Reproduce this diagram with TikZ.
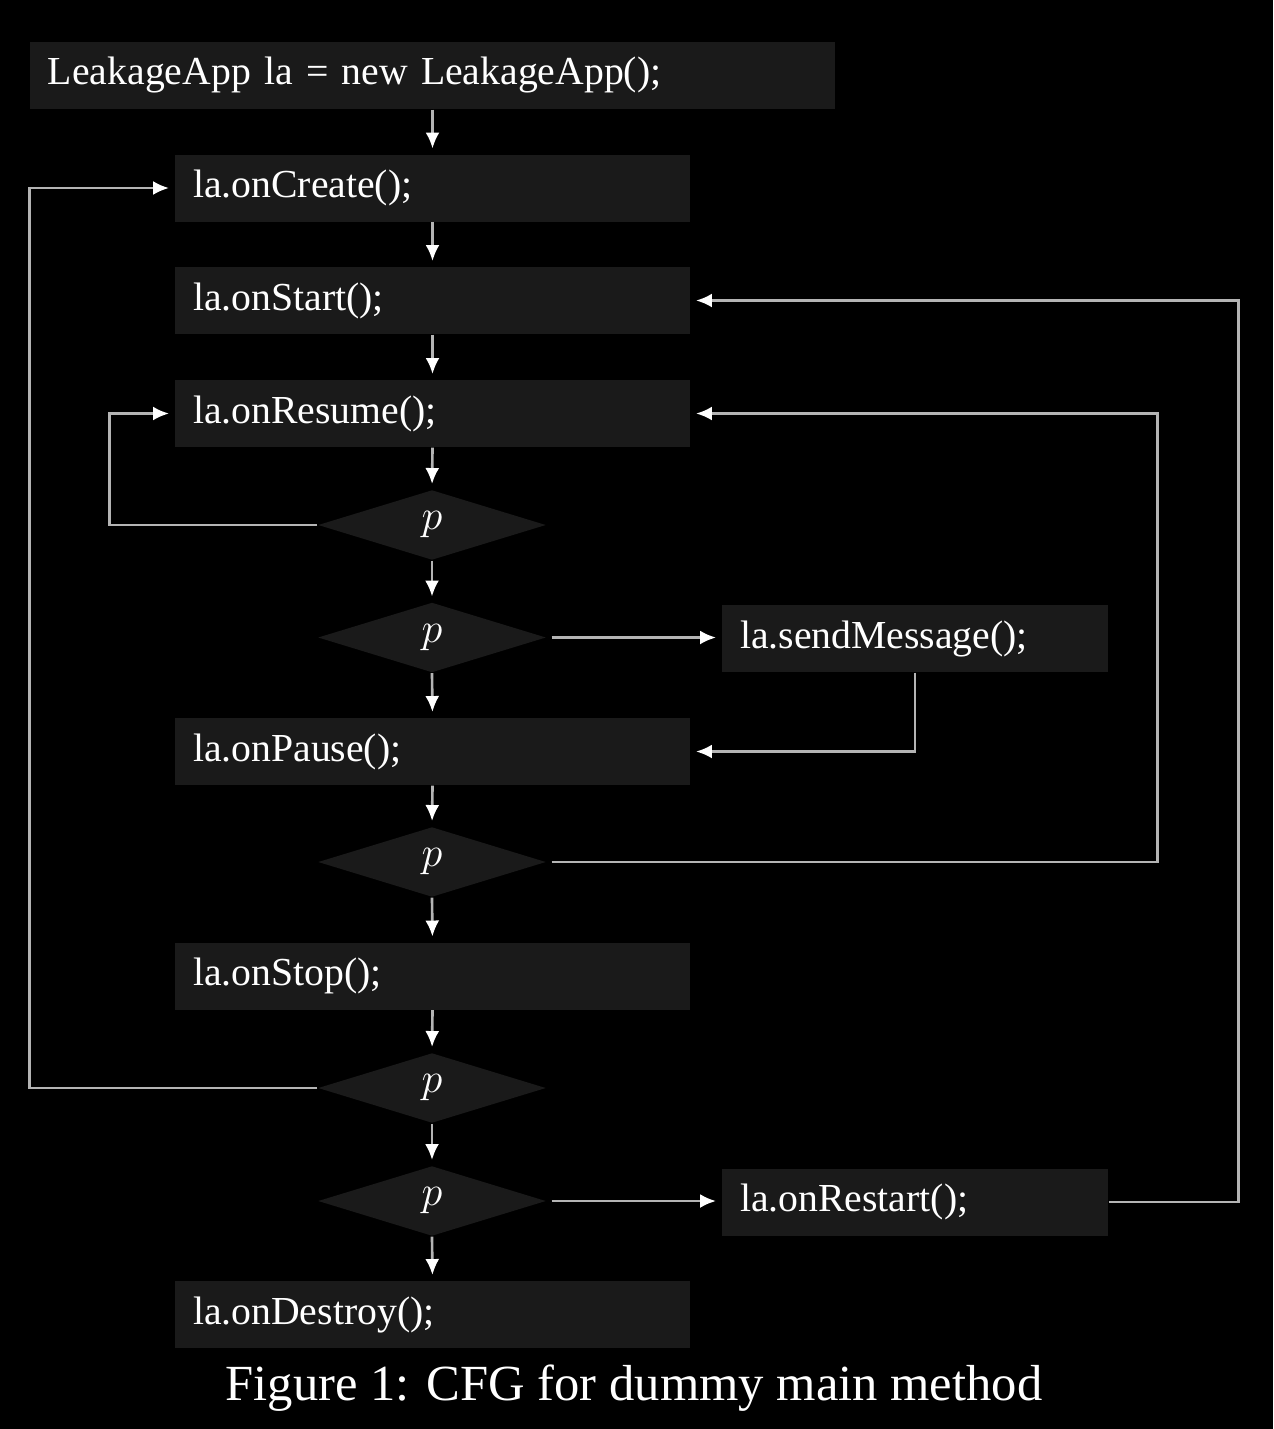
\documentclass[tikz,border=0pt]{standalone}
\usepackage{fontspec}
\setmainfont{Liberation Serif}
\usetikzlibrary{shapes.geometric,arrows.meta}
\definecolor{boxgray}{HTML}{1A1A1A}
\definecolor{linegray}{HTML}{B4B4B4}
\tikzset{
  stmt/.style={fill=boxgray,text=white,minimum height=.67cm,inner xsep=.18cm,align=left,
    font=\fontsize{11.3}{13}\selectfont},
  mainstmt/.style={stmt,text width=4.79cm},
  sidestmt/.style={stmt,text width=3.50cm},
  cond/.style={diamond,aspect=3.26,fill=boxgray,text=white,minimum width=2.28cm,
    minimum height=.70cm,inner sep=0pt,font=\fontsize{12}{14}\selectfont},
  flow/.style={draw=linegray,line width=.75pt,
    -{Latex[color=white,length=.16cm,width=.14cm]},shorten >=1.5pt}
}
\begin{document}
\begin{tikzpicture}
\fill[black] (0,0) rectangle (12.73,-14.29);
\useasboundingbox (0,0) rectangle (12.73,-14.29);

% statements of the dummy main
\node[stmt,text width=7.69cm] (new) at (4.325,-0.755) {LeakageApp la = new LeakageApp();};
\node[mainstmt] (create) at (4.325,-1.88) {la.onCreate();};
\node[mainstmt] (start) at (4.325,-3.005) {la.onStart();};
\node[mainstmt] (resume) at (4.325,-4.135) {la.onResume();};
\node[cond] (p1) at (4.32,-5.25) {$p$};
\node[cond] (p2) at (4.32,-6.375) {$p$};
\node[sidestmt] (send) at (9.15,-6.385) {la.sendMessage();};
\node[mainstmt] (pause) at (4.325,-7.515) {la.onPause();};
\node[cond] (p3) at (4.32,-8.62) {$p$};
\node[mainstmt] (stop) at (4.325,-9.76) {la.onStop();};
\node[cond] (p4) at (4.32,-10.88) {$p$};
\node[cond] (p5) at (4.32,-12.01) {$p$};
\node[sidestmt] (restart) at (9.15,-12.02) {la.onRestart();};
\node[mainstmt] (destroy) at (4.325,-13.145) {la.onDestroy();};

\node[text=white,font=\fontsize{14.4}{17}\selectfont] (cap) at (6.34,-13.88)
  {Figure 1: CFG for dummy main method};

% straight line flow
\foreach \a/\b in {new/create,create/start,start/resume,resume/p1,p1/p2,p2/pause,
  pause/p3,p3/stop,stop/p4,p4/p5,p5/destroy}
  \draw[flow] (\a.south) -- (\b.north);

% branches and back edges
\draw[flow,shorten <=.05cm] (p2.east) -- (p2.east -| send.west);
\draw[flow] (send.south) |- (pause.east);
\draw[flow,shorten <=.05cm] (p5.east) -- (p5.east -| restart.west);
\draw[flow] (p1.west) -- ++(-2.08,0) |- (resume.west);
\draw[flow] (p4.west) -- ++(-2.88,0) |- (create.west);
\draw[flow,shorten <=.05cm] (p3.east) -- ++(6.11,0) |- (resume.east);
\draw[flow] (restart.east) -- ++(1.30,0) |- (start.east);
\end{tikzpicture}
\end{document}
